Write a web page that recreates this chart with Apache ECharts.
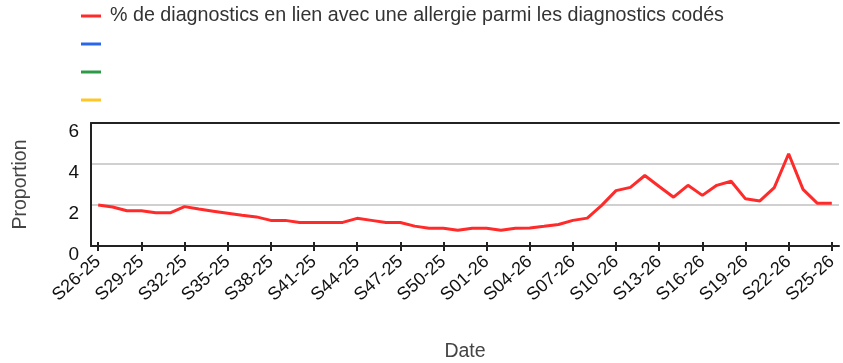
<!DOCTYPE html>
<html>
<head>
<meta charset="utf-8">
<script src="https://cdn.jsdelivr.net/npm/echarts@6/dist/echarts.min.js"></script>
<style>
  html, body { margin: 0; padding: 0; background: #fff; }
  #chart { width: 843px; height: 363px; }
</style>
</head>
<body>
<div id="chart"></div>
<script>
// Weekly share of allergy-related diagnoses (week S26-25 to S25-26)
const weeks = [
  'S26-25','S27-25','S28-25','S29-25','S30-25','S31-25','S32-25','S33-25','S34-25','S35-25',
  'S36-25','S37-25','S38-25','S39-25','S40-25','S41-25','S42-25','S43-25','S44-25','S45-25',
  'S46-25','S47-25','S48-25','S49-25','S50-25','S51-25','S52-25','S01-26','S02-26','S03-26',
  'S04-26','S05-26','S06-26','S07-26','S08-26','S09-26','S10-26','S11-26','S12-26','S13-26',
  'S14-26','S15-26','S16-26','S17-26','S18-26','S19-26','S20-26','S21-26','S22-26','S23-26',
  'S24-26','S25-26'
];

const allergyShare = [
  2.00, 1.90, 1.72, 1.72, 1.62, 1.62, 1.92, 1.80, 1.70, 1.60,
  1.50, 1.42, 1.25, 1.25, 1.15, 1.15, 1.15, 1.15, 1.35, 1.25,
  1.15, 1.15, 0.97, 0.87, 0.87, 0.77, 0.87, 0.87, 0.77, 0.87,
  0.88, 0.96, 1.05, 1.25, 1.36, 1.98, 2.70, 2.86, 3.44, 2.90,
  2.38, 2.96, 2.47, 2.96, 3.16, 2.30, 2.20, 2.85, 4.50, 2.76,
  2.08, 2.08
];

const seriesNames = ['% de diagnostics en lien avec une allergie parmi les diagnostics codés', ' ', '  ', '   '];
const seriesColors = ['#ff2b2b', '#2a66ec', '#2e9a48', '#ffc628'];
const yTicks = { min: 0, max: 6, step: 2 };

const chart = echarts.init(document.getElementById('chart'), null, { renderer: 'canvas' });

const font = 'Arial, "Liberation Sans", sans-serif';

chart.setOption({
  animation: false,
  backgroundColor: '#ffffff',
  legend: {
    orient: 'vertical',
    left: 81,
    top: 5,
    padding: 0,
    itemWidth: 20,
    itemHeight: 3,
    itemGap: 6,
    icon: 'rect',
    data: seriesNames,
    textStyle: { fontFamily: font, fontSize: 19.7, color: '#333', lineHeight: 22, padding: [0, 0, 0, 4] }
  },
  grid: { left: 91, right: 4, top: 123, bottom: 115, containLabel: false },
  xAxis: [
    {
      type: 'category',
      data: weeks,
      boundaryGap: true,
      name: 'Date',
      nameLocation: 'middle',
      nameGap: 96,
      nameTextStyle: { fontFamily: font, fontSize: 19.5, color: '#444' },
      axisLine: { show: true, lineStyle: { color: '#222', width: 2 } },
      axisTick: { show: true, alignWithLabel: true, interval: 2, length: 5, lineStyle: { color: '#222', width: 2 } },
      axisLabel: { interval: 2, rotate: 42, margin: 13, fontFamily: font, fontSize: 18, color: '#111' },
      splitLine: { show: false }
    },
    {
      type: 'category',
      data: weeks,
      boundaryGap: true,
      position: 'bottom',
      axisLine: { show: false },
      axisTick: { show: true, inside: true, alignWithLabel: true, interval: 2, length: 4, lineStyle: { color: '#222', width: 2 } },
      axisLabel: { show: false },
      splitLine: { show: false }
    },
    {
      type: 'category',
      data: weeks,
      boundaryGap: true,
      position: 'top',
      axisLine: { show: true, lineStyle: { color: '#222', width: 2 } },
      axisTick: { show: false },
      axisLabel: { show: false },
      splitLine: { show: false }
    }
  ],
  yAxis: {
    type: 'value',
    min: yTicks.min,
    max: yTicks.max,
    interval: yTicks.step,
    name: 'Proportion',
    nameLocation: 'middle',
    nameGap: 60,
    nameTextStyle: { fontFamily: font, fontSize: 19.5, color: '#444' },
    axisLine: { show: true, lineStyle: { color: '#222', width: 2 } },
    axisTick: { show: false },
    axisLabel: { margin: 12, fontFamily: font, fontSize: 19, color: '#111', verticalAlign: 'top', lineHeight: 17 },
    splitLine: { show: true, lineStyle: { color: '#d0d0d0', width: 2 } }
  },
  series: seriesNames.map((name, i) => ({
    name: name,
    type: 'line',
    xAxisIndex: 0,
    data: i === 0 ? allergyShare : [],
    color: seriesColors[i],
    symbol: 'none',
    lineStyle: { width: 3, color: seriesColors[i] },
    itemStyle: { color: seriesColors[i] },
    z: 5
  }))
});
</script>
</body>
</html>
